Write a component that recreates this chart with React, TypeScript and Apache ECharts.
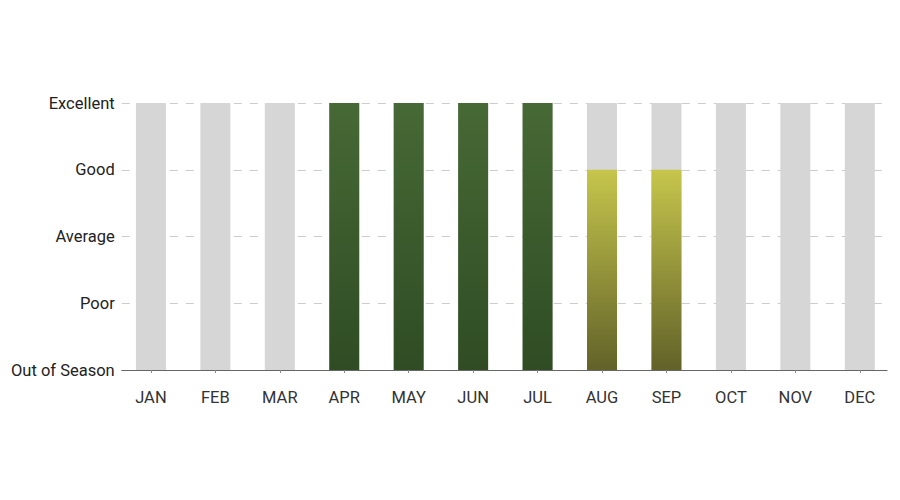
import React, { useEffect, useRef } from "react";
import * as echarts from "echarts";

const months = ["JAN", "FEB", "MAR", "APR", "MAY", "JUN", "JUL", "AUG", "SEP", "OCT", "NOV", "DEC"];
const ratings = [0, 0, 0, 4, 4, 4, 4, 3, 3, 0, 0, 0];
const levelLabels = ["Out of Season", "Poor", "Average", "Good", "Excellent"];

const gradFor = (v: number) => {
  if (v >= 4) {
    return new echarts.graphic.LinearGradient(0, 0, 0, 1, [
      { offset: 0, color: "#476935" },
      { offset: 1, color: "#2f4c24" },
    ]);
  }
  return new echarts.graphic.LinearGradient(0, 0, 0, 1, [
    { offset: 0, color: "#c6c64c" },
    { offset: 1, color: "#626229" },
  ]);
};

export default function App() {
  const ref = useRef<HTMLDivElement>(null);
  useEffect(() => {
    if (!ref.current) return;
    const chart = echarts.init(ref.current, undefined, { renderer: "svg" });
    chart.setOption({
      animation: false,
      grid: [
        { left: 111, right: 5, top: 95, bottom: 122 },
        { left: 110.7, width: 776, top: 95, bottom: 122 },
      ],
      xAxis: [
        {
          gridIndex: 0,
          type: "category",
          data: months,
          axisLine: { show: true, lineStyle: { color: "#666", width: 1 } },
          axisTick: { show: false },
          axisLabel: { show: false },
        },
        {
          gridIndex: 1,
          type: "category",
          data: months,
          axisLine: { show: false },
          axisTick: { show: true, alignWithLabel: true, length: 3, lineStyle: { color: "#888" } },
          axisLabel: { color: "#333", fontFamily: "Roboto", fontSize: 16.5, margin: 19 },
        },
      ],
      yAxis: [
        {
          gridIndex: 0,
          type: "value",
          min: 0,
          max: 4,
          interval: 1,
          axisLine: { show: false },
          axisTick: { show: false },
          splitLine: { show: true, lineStyle: { color: "#cccccc", type: [8, 8], width: 1 } },
          axisLabel: {
            color: "#222",
            fontFamily: "Roboto",
            fontSize: 16.5,
            margin: 7,
            formatter: (v: number) => levelLabels[v] ?? "",
          },
        },
        {
          gridIndex: 1,
          type: "value",
          min: 0,
          max: 4,
          interval: 1,
          show: false,
          splitLine: { show: false },
        },
      ],
      series: [
        {
          type: "bar",
          xAxisIndex: 1,
          yAxisIndex: 1,
          barWidth: 30,
          showBackground: true,
          backgroundStyle: { color: "#d6d6d6" },
          data: ratings.map((v) => ({ value: v, itemStyle: { color: gradFor(v) } })),
        },
      ],
    });
    return () => chart.dispose();
  }, []);
  return <div ref={ref} style={{ width: 884, height: 484 }} />;
}
